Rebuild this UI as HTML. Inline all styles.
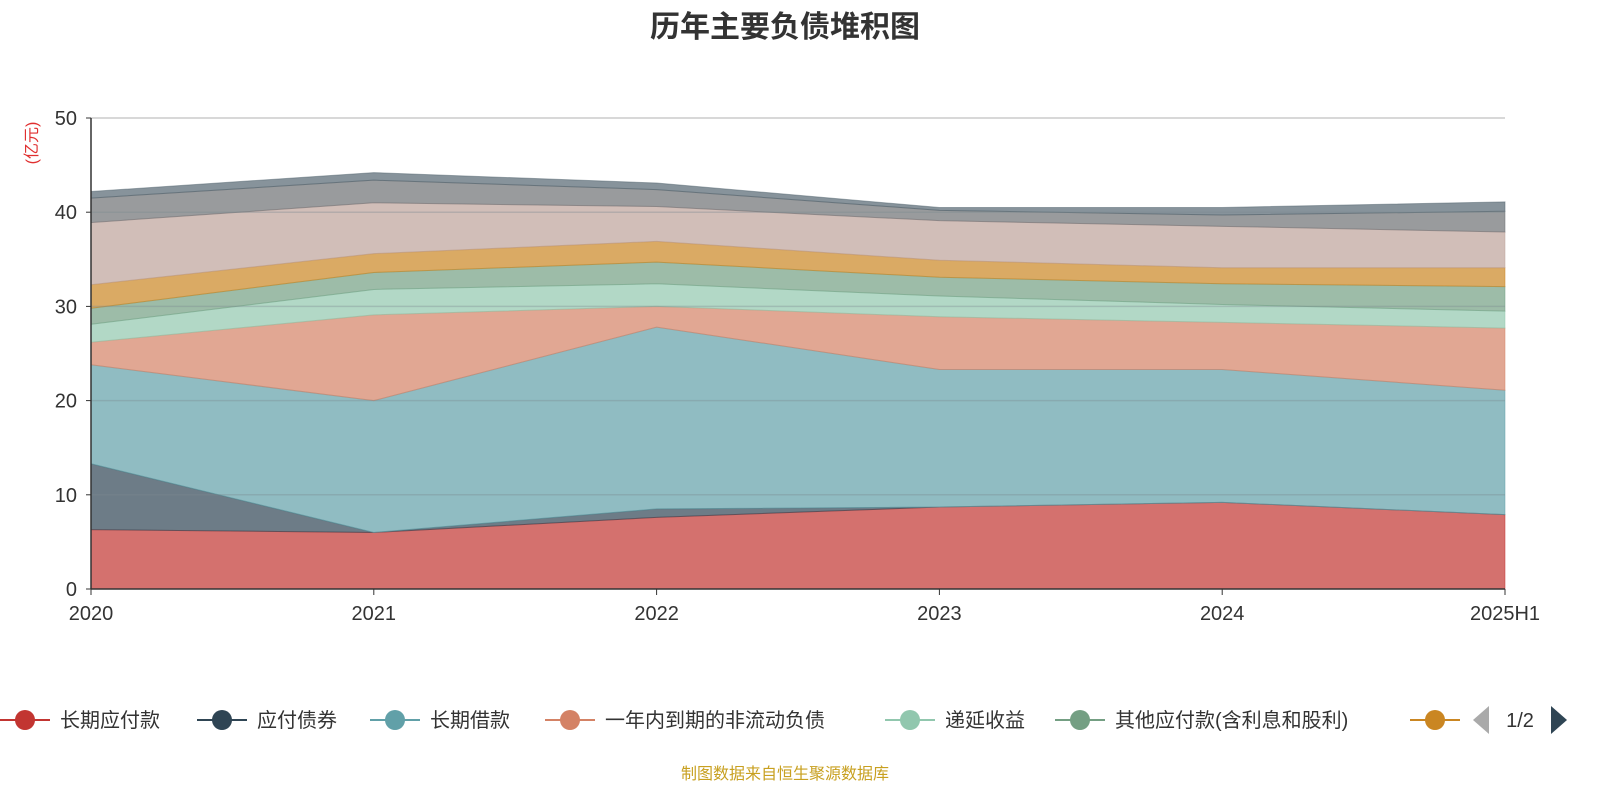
<!DOCTYPE html>
<html><head><meta charset="utf-8">
<style>
body{margin:0;background:#fff;width:1600px;height:800px;overflow:hidden;font-family:"Liberation Sans","Noto Sans CJK SC",sans-serif;}
</style></head>
<body>
<svg id="chart" width="1600" height="800" xmlns="http://www.w3.org/2000/svg" font-family="Liberation Sans, Noto Sans CJK SC, sans-serif">
<text x="785" y="37" text-anchor="middle" font-size="30" font-weight="bold" fill="#333">历年主要负债堆积图</text>
<text transform="translate(37,143) rotate(-90)" text-anchor="middle" font-size="16" fill="#e03030">(亿元)</text>
<g id="areas"></g>
<g id="grid"></g>
<g id="axes"></g>
<g id="legend"></g>
<text x="785" y="779" text-anchor="middle" font-size="16" fill="#c8a020">制图数据来自恒生聚源数据库</text>
</svg>
<script>
const categories=["2020","2021","2022","2023","2024","2025H1"];
const seriesNames=["长期应付款","应付债券","长期借款","一年内到期的非流动负债","递延收益","其他应付款(含利息和股利)","s7","s8","s9","s10"];
const s1=[6.3,6.0,7.6,8.7,9.2,7.9];
const s2=[7.0,0,0.9,0,0,0];
const s3=[10.5,14.0,19.3,14.6,14.1,13.2];
const s4=[2.4,9.1,2.2,5.6,5.0,6.6];
const s5=[1.9,2.7,2.4,2.2,1.9,1.8];
const s6=[1.7,1.8,2.3,2.0,2.2,2.6];
const s7=[2.5,2.0,2.2,1.8,1.7,2.0];
const s8=[6.6,5.4,3.7,4.2,4.4,3.8];
const s9=[2.6,2.4,1.8,1.1,1.2,2.2];
const s10=[0.7,0.8,0.7,0.3,0.8,1.0];
const yTicks=[0,10,20,30,40,50];
const series=[s1,s2,s3,s4,s5,s6,s7,s8,s9,s10];
const colors=["#c23531","#2f4554","#61a0a8","#d48265","#91c7ae","#749f83","#ca8622","#bda29a","#6e7074","#546570"];
const NS="http://www.w3.org/2000/svg";
const x0=91,x1=1505,yb=589,yt=118,ymax=50;
const X=i=>x0+(x1-x0)*i/(categories.length-1);
const Y=v=>yb-(yb-yt)*v/ymax;
function mk(tag,attrs,parent){const e=document.createElementNS(NS,tag);for(const k in attrs)e.setAttribute(k,attrs[k]);parent.appendChild(e);return e;}
const areas=document.getElementById('areas');
let base=categories.map(()=>0);
series.forEach((s,si)=>{
  const top=base.map((b,i)=>b+s[i]);
  let d="M"+categories.map((c,i)=>X(i)+","+Y(top[i])).join("L");
  for(let i=categories.length-1;i>=0;i--)d+="L"+X(i)+","+Y(base[i]);
  d+="Z";
  const p=mk('path',{d:d,fill:colors[si],'fill-opacity':0.7,stroke:colors[si],'stroke-opacity':0.5,'stroke-width':1},areas);
  
  
  base=top;
});
const grid=document.getElementById('grid'),axes=document.getElementById('axes');
yTicks.forEach(t=>{
  if(t>0){const l=mk('line',{x1:x0,x2:x1,y1:Y(t),y2:Y(t),stroke:t==50?'#ccc':'#7a8a90','stroke-opacity':t==50?1:0.35,'stroke-width':1.5},grid);
  }
  mk('line',{x1:x0-5,x2:x0,y1:Y(t),y2:Y(t),stroke:'#333'},axes);
  const tx=mk('text',{x:x0-14,y:Y(t)+7,'text-anchor':'end','font-size':20,fill:'#333'},axes);
  tx.textContent=t;
});
mk('line',{x1:x0,x2:x0,y1:yt,y2:yb,stroke:'#333','stroke-width':1.5},axes);
mk('line',{x1:x0,x2:x1,y1:yb,y2:yb,stroke:'#333','stroke-width':1.5},axes);
categories.forEach((c,i)=>{
  mk('line',{x1:X(i),x2:X(i),y1:yb,y2:yb+6,stroke:'#333'},axes);
  const tx=mk('text',{x:X(i),y:620,'text-anchor':'middle','font-size':20,fill:'#333'},axes);
  tx.textContent=c;
});
const lg=document.getElementById('legend');
const lx=[0,197,370,545,885,1055,1410];
const labels=["长期应付款","应付债券","长期借款","一年内到期的非流动负债","递延收益","其他应付款(含利息和股利)",""];
lx.forEach((x,i)=>{
  const g=mk('g',{},lg);
  
  
  mk('line',{x1:x,x2:x+50,y1:720,y2:720,stroke:colors[i],'stroke-width':2},g);
  mk('circle',{cx:x+25,cy:720,r:10,fill:colors[i]},g);
  const t=mk('text',{x:x+60,y:727,'font-size':20,fill:'#333'},g);t.textContent=labels[i];
});
const pp=mk('polygon',{points:'1473,720 1489,706 1489,734',fill:'#aaa'},lg);

const pt=mk('text',{x:1520,y:727,'text-anchor':'middle','font-size':20,fill:'#333'},lg);pt.textContent="1/2";

const pn=mk('polygon',{points:'1567,720 1551,706 1551,734',fill:'#2f4554'},lg);

</script>
</body></html>
